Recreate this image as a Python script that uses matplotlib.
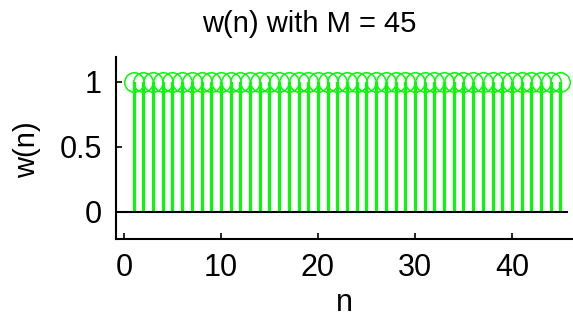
import numpy as np
import matplotlib
matplotlib.use("Agg")
import matplotlib.pyplot as plt

# window w(n) = 1 for n = 1..45
n = list(range(1, 46))
w = [1] * 45
x_ticks = [0, 10, 20, 30, 40]
y_ticks = [0, 0.5, 1]

plt.rcParams['font.family'] = ['Liberation Sans', 'DejaVu Sans']

fig = plt.figure(figsize=(5.73, 3.21), dpi=100)
ax = fig.add_axes([116/573, 82/321, 457/573, 182/321])

ml, sl, bl = ax.stem(n, w, linefmt='-', markerfmt='o', basefmt=' ')
plt.setp(sl, color='#00ff00', linewidth=0.8, antialiased=False)
plt.setp(ml, markerfacecolor='none', markeredgecolor='#00ff00',
         markersize=14, markeredgewidth=1.1)
ax.axhline(0, xmin=0, xmax=0.987, color='black', linewidth=1.5)

ax.set_xlim(-0.82, 46.3)
ax.set_ylim(-0.208, 1.19)
ax.set_xticks(x_ticks)
ax.set_yticks(y_ticks)
ax.set_yticklabels(['0', '0.5', '1'])

for s in ['top', 'right']:
    ax.spines[s].set_visible(False)
for s in ['left', 'bottom']:
    ax.spines[s].set_linewidth(1.5)
ax.tick_params(direction='in', length=4, width=1.2, labelsize=22, pad=10)

ax.set_title('w(n) with M = 45', fontsize=21, x=0.422, pad=18)
ax.set_xlabel('n', fontsize=22, labelpad=4)
ax.set_ylabel('w(n)', fontsize=21)
ax.yaxis.set_label_coords(-0.165, 0.49)

fig.savefig('out.png', dpi=100)
